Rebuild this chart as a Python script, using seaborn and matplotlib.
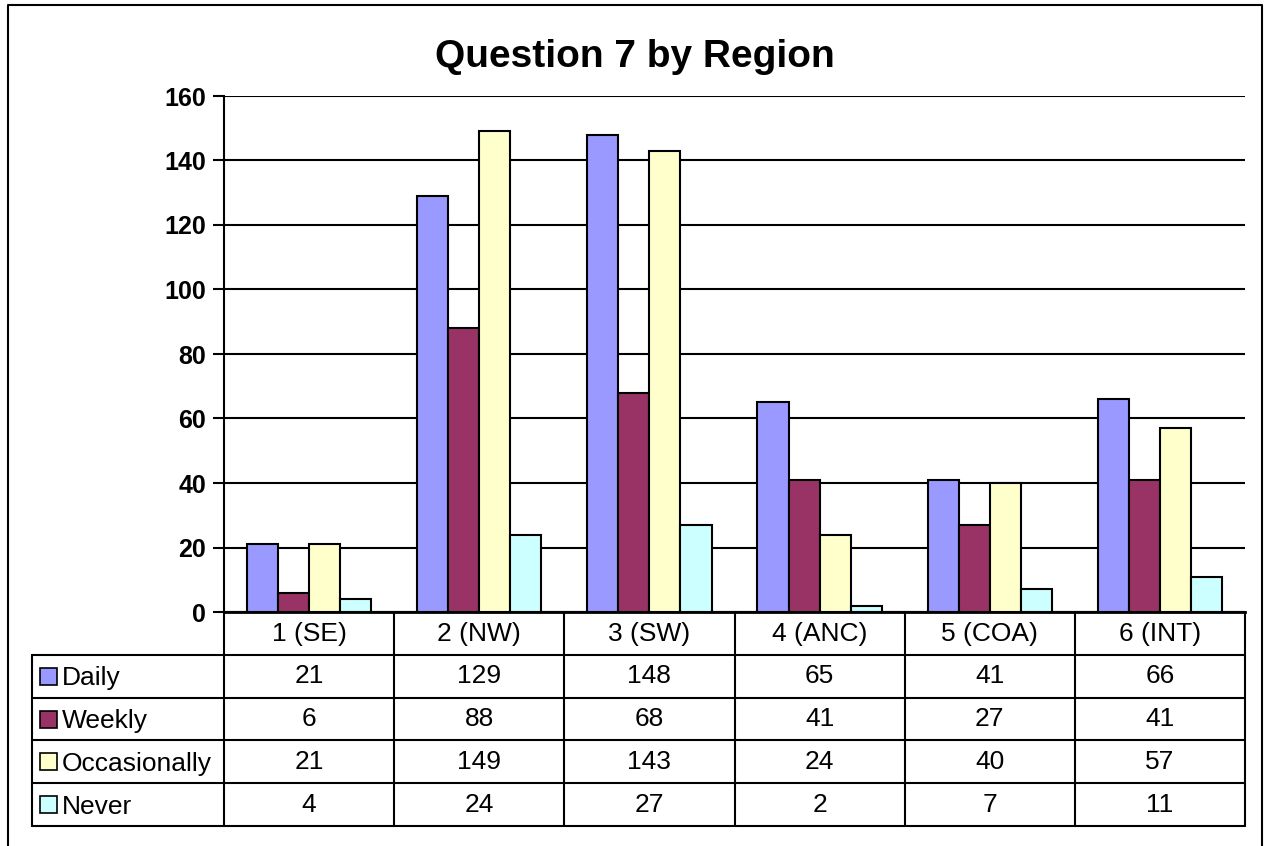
import matplotlib
matplotlib.use("Agg")
import numpy as np
import pandas as pd
import matplotlib.pyplot as plt
from matplotlib.patches import Rectangle
import seaborn as sns

# Chart data
regions = ['1 (SE)', '2 (NW)', '3 (SW)', '4 (ANC)', '5 (COA)', '6 (INT)']
series = ['Daily', 'Weekly', 'Occasionally', 'Never']
daily = [21, 129, 148, 65, 41, 66]
weekly = [6, 88, 68, 41, 27, 41]
occasionally = [21, 149, 143, 24, 40, 57]
never = [4, 24, 27, 2, 7, 11]
colors = ['#9999FF', '#993366', '#FFFFCC', '#CCFFFF']
y_ticks = [0, 20, 40, 60, 80, 100, 120, 140, 160]

values = [daily, weekly, occasionally, never]
df = pd.DataFrame({
    'Region': regions * len(series),
    'Answer': np.repeat(series, len(regions)),
    'Count': daily + weekly + occasionally + never,
})

sns.set_style("white")
plt.rcParams['font.family'] = ['Liberation Sans', 'DejaVu Sans']
plt.rcParams['text.color'] = 'black'
plt.rcParams['ytick.color'] = 'black'
plt.rcParams['xtick.color'] = 'black'

# figure size in pixels and plot area bounds
W, H = 1264, 846
L, R, T, B = 224, 1245, 96, 612

fig = plt.figure(figsize=(W / 100, H / 100), dpi=100)

# overlay in pixel coordinates for the frame and the data table
ov = fig.add_axes([0, 0, 1, 1])
ov.set_xlim(0, W)
ov.set_ylim(H, 0)
ov.axis('off')

ax = fig.add_axes([L / W, (H - B) / H, (R - L) / W, (B - T) / H])
sns.barplot(data=df, x='Region', y='Count', hue='Answer', order=regions,
            hue_order=series, palette=colors, width=0.73, gap=0,
            saturation=1, edgecolor='black', linewidth=1.5,
            legend=False, ax=ax)
ax.set_xlim(-0.5, len(regions) - 0.5)
ax.set_ylim(0, 160)
ax.set_yticks(y_ticks)
ax.set_yticklabels([str(t) for t in y_ticks], fontsize=18, fontweight='bold',
                   color='black')
ax.yaxis.grid(True, color='black', linewidth=1.5)
ax.set_axisbelow(True)
ax.set_facecolor('none')
for side in ['top', 'right']:
    ax.spines[side].set_visible(False)
ax.spines['left'].set_color('black')
ax.spines['left'].set_linewidth(1.5)
ax.spines['bottom'].set_color('black')
ax.spines['bottom'].set_linewidth(2)
ax.tick_params(axis='y', left=True, direction='out', length=8, width=1.5,
               pad=5, colors='black')
ax.tick_params(axis='x', length=0, labelbottom=False)
ax.set_xlabel('')
ax.set_ylabel('')

# title
fig.text(635 / W, 1 - 57 / H, 'Question 7 by Region', ha='center', va='center',
         fontsize=28, fontweight='bold', color='black')

# outer chart frame
lw = 1.5
ov.plot([8, 8, 1262, 1262], [H + 5, 5, 5, H + 5], color='black', lw=lw,
        clip_on=False)

# data table
cw = (R - L) / len(regions)
top_rows = 655
bottom_rows = 826
rh = (bottom_rows - top_rows) / len(series)
left_tab = 32
fs = 19

for i in range(len(regions) + 1):
    x = L + i * cw
    ov.plot([x, x], [B, bottom_rows], color='black', lw=lw)
ov.plot([left_tab, left_tab], [top_rows, bottom_rows], color='black', lw=lw)
ov.plot([L, R], [B, B], color='black', lw=lw)
for j in range(len(series) + 1):
    y = top_rows + j * rh
    ov.plot([left_tab, R], [y, y], color='black', lw=lw)

for i, reg in enumerate(regions):
    ov.text(L + (i + 0.5) * cw, (B + top_rows) / 2, reg, ha='center',
            va='center', fontsize=fs, color='black')

for j, (name, vals, col) in enumerate(zip(series, values, colors)):
    yc = top_rows + (j + 0.5) * rh
    ov.add_patch(Rectangle((40, yc - 8.5), 17, 17, facecolor=col,
                           edgecolor='black', lw=1.2))
    ov.text(62, yc + 2, name, ha='left', va='center', fontsize=fs,
            color='black')
    for i, v in enumerate(vals):
        ov.text(L + (i + 0.5) * cw, yc, str(v), ha='center', va='center',
                fontsize=fs, color='black')

fig.savefig('out.png', dpi=100)
